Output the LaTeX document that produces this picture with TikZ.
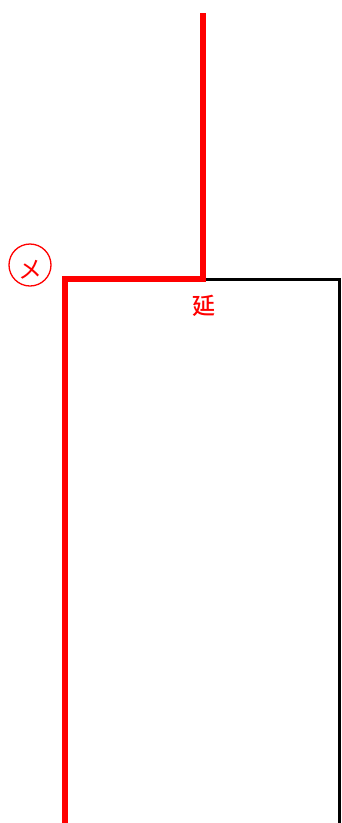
\documentclass[tikz,border=0pt]{standalone}
\usepackage{fontspec}
\newfontfamily\cjk{Noto Sans CJK JP}
\newfontfamily\cjkbold{Noto Sans CJK JP Medium}

\begin{document}
\begin{tikzpicture}[x=1pt,y=-1pt,
    redline/.style={red, line width=6pt, line join=miter},
    blackline/.style={black, line width=3pt, line join=miter},
    redtext/.style={text=red, inner sep=0pt}]
            \useasboundingbox (0,0) rectangle (342,823);

            % Corner points of the outline
            \coordinate (top) at (203,13);
            \coordinate (corner) at (203,279);
            \coordinate (left) at (65,279);
            \coordinate (leftbottom) at (65,823);
            \coordinate (right) at (339,279);
            \coordinate (rightbottom) at (339,823);

            % Draw the black outline
            \draw[blackline] (corner) -- (right) -- (rightbottom);

            % Draw the red line
            \draw[redline] (top) -- (corner) -- (left) -- (leftbottom);

            % Draw the circled mark and the label
            \node[draw=red, circle, line width=1.3pt, minimum size=42pt, inner sep=0pt] (mark) at (30,265) {};
            \node[redtext, font=\cjk\fontsize{24}{24}\selectfont] (marktext) at ([yshift=-5pt]mark.center) {メ};
            \node[redtext, font=\cjkbold\fontsize{23}{23}\selectfont] (yan) at (204,306) {延};
        \end{tikzpicture}
\end{document}
